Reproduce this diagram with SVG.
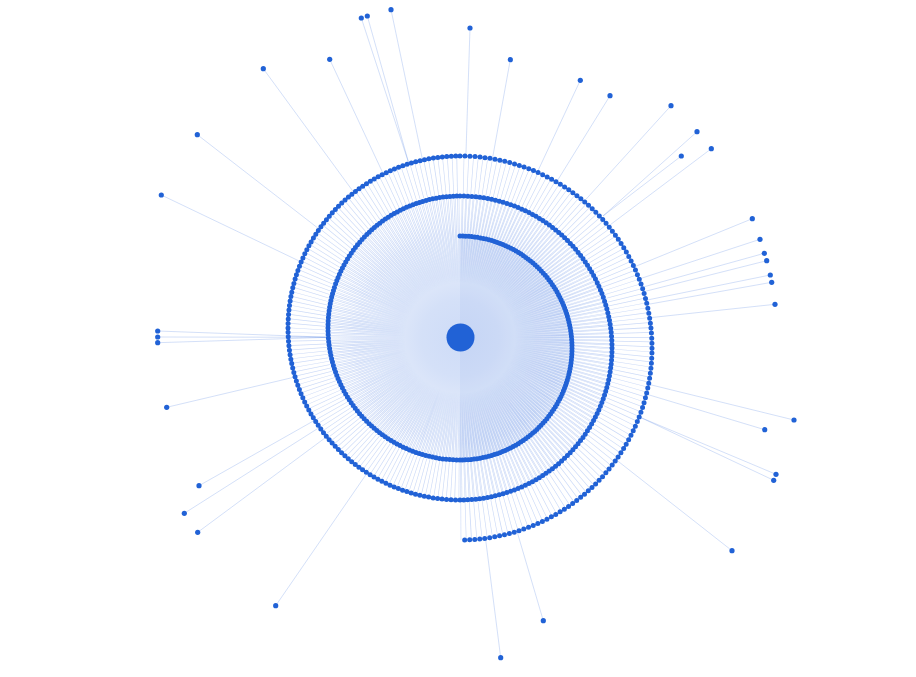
<svg xmlns="http://www.w3.org/2000/svg" width="916" height="677" viewBox="0 0 916 677">
<style>
.wd{fill:none;stroke:#2a66dc;stroke-opacity:0.24;stroke-width:180;stroke-dasharray:0.65 2.49159}
.ln{fill:none;stroke:#2a66dc;stroke-opacity:0.2;stroke-width:1}
.sp{fill:none;stroke:#2162d6;stroke-width:5;stroke-linecap:round}
.lf{fill:#2162d6}
</style>
<defs>
<radialGradient id="haze" gradientUnits="userSpaceOnUse" cx="460" cy="338" r="130">
<stop offset="0" stop-color="#2a66dc" stop-opacity="0.23"/>
<stop offset="0.3" stop-color="#2a66dc" stop-opacity="0.2"/>
<stop offset="0.5" stop-color="#2a66dc" stop-opacity="0.15"/>
<stop offset="0.7" stop-color="#2a66dc" stop-opacity="0.07"/>
<stop offset="0.85" stop-color="#2a66dc" stop-opacity="0.02"/>
<stop offset="1" stop-color="#2a66dc" stop-opacity="0"/>
</radialGradient>
<radialGradient id="mg" gradientUnits="userSpaceOnUse" cx="460" cy="338" r="220">
<stop offset="0" stop-color="#000"/>
<stop offset="0.25" stop-color="#000"/>
<stop offset="0.48" stop-color="#fff"/>
<stop offset="1" stop-color="#fff"/>
</radialGradient>
<mask id="m" maskUnits="userSpaceOnUse" x="0" y="0" width="916" height="677"><circle cx="460" cy="338" r="220" fill="url(#mg)"/></mask>
<clipPath id="c0"><path d="M460 236A112 112 0 0 1 460 460Z"/></clipPath>
<clipPath id="c1"><path d="M460 460A132 132 0 0 1 460 196Z"/></clipPath>
<clipPath id="c2"><path d="M460 196A152 152 0 0 1 460 500Z"/></clipPath>
<clipPath id="c3"><path d="M460 500A172 172 0 0 1 460 156Z"/></clipPath>
<clipPath id="c4"><path d="M460 156A192 192 0 0 1 460 540Z"/></clipPath>
</defs>
<rect width="916" height="677" fill="#ffffff"/>
<circle cx="460" cy="338" r="130" fill="url(#haze)"/>
<path d="M460 236A112 112 0 0 1 460 460Z" fill="#2a66dc" fill-opacity="0.05"/>
<g id="connectors">
<g id="spokes" mask="url(#m)">
<g clip-path="url(#c0)"><circle class="wd" cx="460" cy="338" r="120" stroke-dashoffset="0.325"/></g>
<g clip-path="url(#c1)"><circle class="wd" cx="460" cy="338" r="120" stroke-dashoffset="1.4"/></g>
<g clip-path="url(#c2)"><circle class="wd" cx="460" cy="338" r="120" stroke-dashoffset="1.9"/></g>
<g clip-path="url(#c3)"><circle class="wd" cx="460" cy="338" r="120" stroke-dashoffset="2.7"/></g>
<g clip-path="url(#c4)"><circle class="wd" cx="460" cy="338" r="120" stroke-dashoffset="1.0"/></g>
</g>
<path class="ln" d="M263.3 68.7L355.1 194.2M329.7 59.3L384.1 175.7M361.3 18L409 164M367.3 16L409 164M391 9.7L422.8 161.2M470 28L465.9 155.9M510.3 59.7L492.6 157.8M580.3 80.3L538.1 170.5M610 95.7L557.6 180.3M671 105.7L585.5 199.8M697 131.7L603 216M681.3 156L603 216M711.3 148.7L610.1 224.9M752.3 218.7L635.5 266.4M760 239.3L640.4 278.6M764.3 253.3L643.2 287M766.7 260.7L644.5 291.5M770.3 275L646.8 300.1M771.7 282.3L647.8 304.4M775 304.3L650.1 317.7M794 420L647.9 384.1M764.7 429.7L645.7 393.9M776 474.3L639.5 417M773.7 480.3L639.5 417M732 550.7L614.7 458.6M543.3 620.7L516.6 530M500.7 657.7L485.4 537.6M275.7 605.7L366 474.6M197.7 532.3L325.1 437.9M184.3 513.3L317.9 428.4M199 485.7L313.2 421.1M166.7 407.3L294.1 377.2M157.7 331L328.7 337.3M157.7 337L328.7 337.3M157.7 342.7L328.7 337.3M161.3 195L302.3 262.5M197.3 134.7L320.6 230.2"/>
</g>
<g id="spiral">
<path id="turn-0" class="sp" stroke-dasharray="0 2.932" d="M460 236A112 112 0 0 1 460 460"/>
<path id="turn-1" class="sp" stroke-dasharray="0 3.456" d="M460 460A132 132 0 0 1 460 196"/>
<path id="turn-2" class="sp" stroke-dasharray="0 3.979" d="M460 196A152 152 0 0 1 460 500"/>
<path id="turn-3" class="sp" stroke-dasharray="0 4.503" d="M460 500A172 172 0 0 1 460 156"/>
<path id="turn-4" class="sp" stroke-dasharray="0 5.027" d="M460 156A192 192 0 0 1 460 540"/>
</g>
<g id="root"><circle class="lf" cx="460.5" cy="337.5" r="14"/></g>
<g id="leaf-1"><circle class="lf" cx="263.3" cy="68.7" r="2.6"/></g>
<g id="leaf-2"><circle class="lf" cx="329.7" cy="59.3" r="2.6"/></g>
<g id="leaf-3"><circle class="lf" cx="361.3" cy="18" r="2.6"/></g>
<g id="leaf-4"><circle class="lf" cx="367.3" cy="16" r="2.6"/></g>
<g id="leaf-5"><circle class="lf" cx="391" cy="9.7" r="2.6"/></g>
<g id="leaf-6"><circle class="lf" cx="470" cy="28" r="2.6"/></g>
<g id="leaf-7"><circle class="lf" cx="510.3" cy="59.7" r="2.6"/></g>
<g id="leaf-8"><circle class="lf" cx="580.3" cy="80.3" r="2.6"/></g>
<g id="leaf-9"><circle class="lf" cx="610" cy="95.7" r="2.6"/></g>
<g id="leaf-10"><circle class="lf" cx="671" cy="105.7" r="2.6"/></g>
<g id="leaf-11"><circle class="lf" cx="697" cy="131.7" r="2.6"/></g>
<g id="leaf-12"><circle class="lf" cx="681.3" cy="156" r="2.6"/></g>
<g id="leaf-13"><circle class="lf" cx="711.3" cy="148.7" r="2.6"/></g>
<g id="leaf-14"><circle class="lf" cx="752.3" cy="218.7" r="2.6"/></g>
<g id="leaf-15"><circle class="lf" cx="760" cy="239.3" r="2.6"/></g>
<g id="leaf-16"><circle class="lf" cx="764.3" cy="253.3" r="2.6"/></g>
<g id="leaf-17"><circle class="lf" cx="766.7" cy="260.7" r="2.6"/></g>
<g id="leaf-18"><circle class="lf" cx="770.3" cy="275" r="2.6"/></g>
<g id="leaf-19"><circle class="lf" cx="771.7" cy="282.3" r="2.6"/></g>
<g id="leaf-20"><circle class="lf" cx="775" cy="304.3" r="2.6"/></g>
<g id="leaf-21"><circle class="lf" cx="794" cy="420" r="2.6"/></g>
<g id="leaf-22"><circle class="lf" cx="764.7" cy="429.7" r="2.6"/></g>
<g id="leaf-23"><circle class="lf" cx="776" cy="474.3" r="2.6"/></g>
<g id="leaf-24"><circle class="lf" cx="773.7" cy="480.3" r="2.6"/></g>
<g id="leaf-25"><circle class="lf" cx="732" cy="550.7" r="2.6"/></g>
<g id="leaf-26"><circle class="lf" cx="543.3" cy="620.7" r="2.6"/></g>
<g id="leaf-27"><circle class="lf" cx="500.7" cy="657.7" r="2.6"/></g>
<g id="leaf-28"><circle class="lf" cx="275.7" cy="605.7" r="2.6"/></g>
<g id="leaf-29"><circle class="lf" cx="197.7" cy="532.3" r="2.6"/></g>
<g id="leaf-30"><circle class="lf" cx="184.3" cy="513.3" r="2.6"/></g>
<g id="leaf-31"><circle class="lf" cx="199" cy="485.7" r="2.6"/></g>
<g id="leaf-32"><circle class="lf" cx="166.7" cy="407.3" r="2.6"/></g>
<g id="leaf-33"><circle class="lf" cx="157.7" cy="331" r="2.6"/></g>
<g id="leaf-34"><circle class="lf" cx="157.7" cy="337" r="2.6"/></g>
<g id="leaf-35"><circle class="lf" cx="157.7" cy="342.7" r="2.6"/></g>
<g id="leaf-36"><circle class="lf" cx="161.3" cy="195" r="2.6"/></g>
<g id="leaf-37"><circle class="lf" cx="197.3" cy="134.7" r="2.6"/></g>
</svg>
